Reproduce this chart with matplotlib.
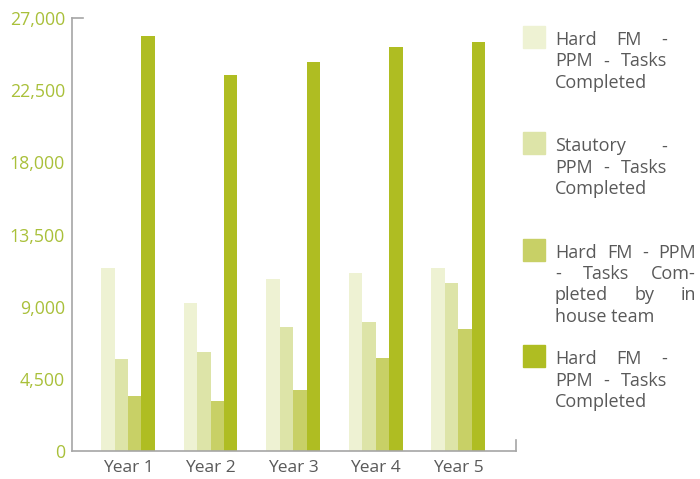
import numpy as np
import matplotlib.pyplot as plt
from matplotlib.ticker import FuncFormatter

plt.rcParams['font.family'] = ['Open Sans', 'DejaVu Sans']

years = ["Year 1", "Year 2", "Year 3", "Year 4", "Year 5"]
hard_fm = [11430, 9230, 10720, 11100, 11410]
statutory = [5740, 6190, 7730, 8040, 10480]
in_house = [3430, 3120, 3800, 5800, 7610]
hard_fm_total = [25900, 23470, 24260, 25190, 25500]

series = [hard_fm, statutory, in_house, hard_fm_total]
colors = ["#EEF2D3", "#DDE4A8", "#C8D066", "#AFBD22"]

# legend text, already broken into lines (last line of each entry is not justified)
legend_lines = [
    ["Hard FM -", "PPM - Tasks", "Completed"],
    ["Stautory -", "PPM - Tasks", "Completed"],
    ["Hard FM - PPM", "- Tasks Com-", "pleted by in", "house team"],
    ["Hard FM -", "PPM - Tasks", "Completed"],
]
legend_right = [667, 667, 696, 667]

W, H = 700, 479
fig = plt.figure(figsize=(7, 4.79), dpi=100)
ax = fig.add_axes([72 / W, (H - 451) / H, (516 - 72) / W, (451 - 18) / H])

x = np.arange(len(years))
bw = 0.163
for i, (vals, c) in enumerate(zip(series, colors)):
    ax.bar(x + (i - 1.5) * bw, vals, width=bw, color=c, linewidth=0)

xmin, xmax = -0.678, 4.70
ax.set_xlim(xmin, xmax)
ax.set_ylim(0, 27000)
ax.set_yticks(np.arange(0, 27001, 4500))
ax.yaxis.set_major_formatter(FuncFormatter(lambda v, p: f"{int(v):,}"))
ax.set_xticks(x)
ax.set_xticklabels(years)

axis_grey = "#A6A6A6"
for s in ["top", "right"]:
    ax.spines[s].set_visible(False)
for s in ["left", "bottom"]:
    ax.spines[s].set_color(axis_grey)
    ax.spines[s].set_linewidth(1.2)

ax.tick_params(axis="y", length=0, pad=5, labelsize=12.8, labelcolor="#A9C03A")
ax.tick_params(axis="x", length=0, pad=6.5, labelsize=12.5, labelcolor="#595959")

# little caps at the ends of the axes
ax.axhline(27000, xmin=0, xmax=11 / 444, color=axis_grey, lw=1.2, clip_on=False)
ax.axvline(xmax, ymin=0, ymax=11 / 433, color=axis_grey, lw=1.2, clip_on=False)

# legend with justified text
renderer = fig.canvas.get_renderer()
text_kw = dict(fontsize=13, color="#595959", va="baseline", ha="left")
x_text = 555
for k, (lines, c) in enumerate(zip(legend_lines, colors)):
    base = 45 + k * 106.4
    fig.patches.append(plt.Rectangle((523 / W, 1 - (base - 19 + 22) / H), 22 / W, 22 / H,
                                     transform=fig.transFigure, color=c, figure=fig))
    for j, line in enumerate(lines):
        y = 1 - (base + j * 21.3) / H
        words = line.split()
        if j == len(lines) - 1 or len(words) == 1:
            fig.text(x_text / W, y, line, **text_kw)
            continue
        texts = [fig.text(0, y, w_, **text_kw) for w_ in words]
        widths = [t.get_window_extent(renderer).width for t in texts]
        gap = (legend_right[k] - x_text - sum(widths)) / (len(words) - 1)
        px = x_text
        for t, wd in zip(texts, widths):
            t.set_x(px / W)
            px += wd + gap

fig.savefig("out.png", dpi=100)
